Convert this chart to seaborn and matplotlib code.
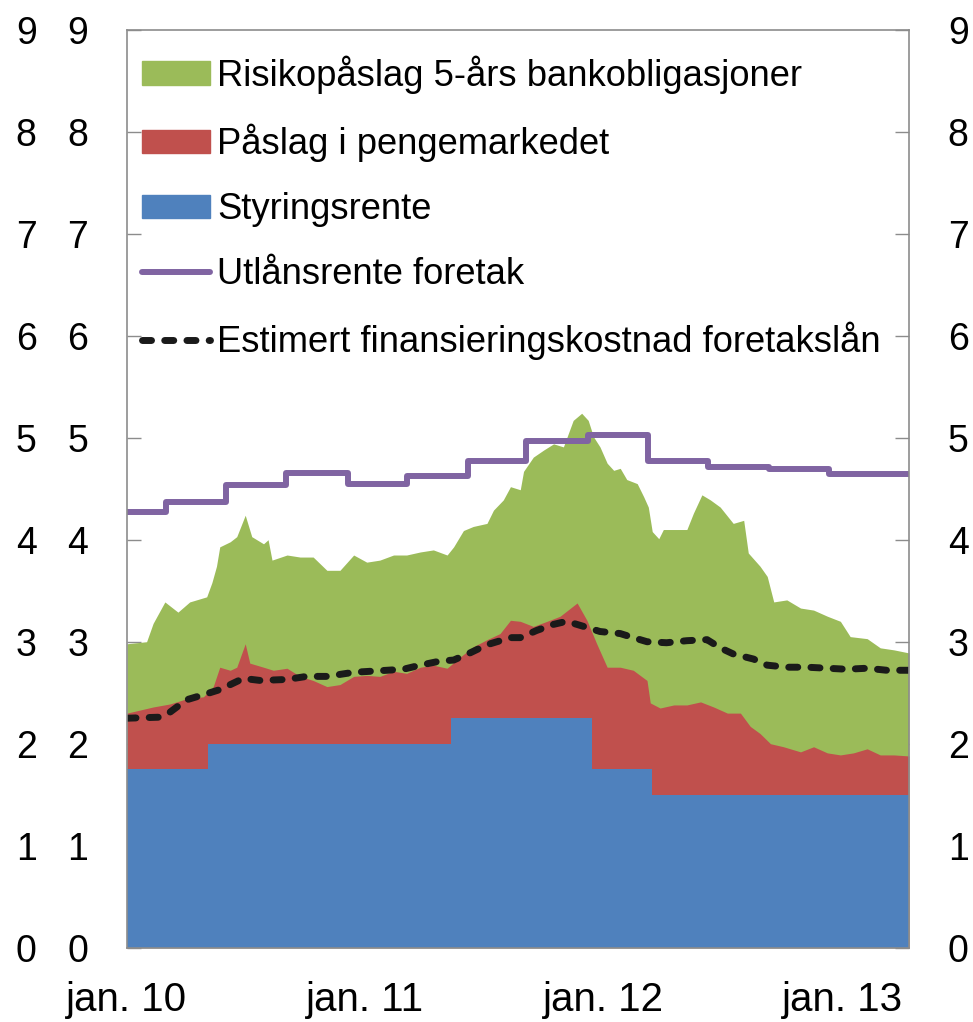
import pandas as pd  # data handling
import seaborn as sns  # plotting
import matplotlib.pyplot as plt
from matplotlib.patches import Patch
from matplotlib.lines import Line2D

# data (percent)
styring_dates = ["2010-01-01", "2010-05-05", "2011-05-12", "2011-12-14", "2012-03-14", "2013-04-12"]
styring_vals = [1.75, 2.00, 2.25, 1.75, 1.50, 1.50]

# level of red area top (styringsrente + påslag i pengemarkedet)
penge_dates = ["2010-01-01", "2010-01-21", "2010-02-10", "2010-03-08", "2010-04-02", "2010-04-28",
               "2010-05-13", "2010-05-23", "2010-06-08", "2010-06-18", "2010-07-01", "2010-07-08",
               "2010-07-29", "2010-08-13", "2010-09-03", "2010-09-23", "2010-10-13", "2010-11-03",
               "2010-11-23", "2010-12-14", "2011-01-03", "2011-01-23", "2011-02-13", "2011-03-05",
               "2011-03-26", "2011-04-15", "2011-05-06", "2011-05-26", "2011-06-15", "2011-07-06",
               "2011-07-26", "2011-08-11", "2011-08-26", "2011-09-15", "2011-10-06", "2011-10-26",
               "2011-11-21", "2011-12-06", "2011-12-21", "2012-01-06", "2012-01-26", "2012-02-15",
               "2012-03-07", "2012-03-12", "2012-03-27", "2012-04-17", "2012-05-07", "2012-05-28",
               "2012-06-17", "2012-07-08", "2012-07-28", "2012-08-12", "2012-08-27", "2012-09-12",
               "2012-10-02", "2012-10-28", "2012-11-17", "2012-12-08", "2012-12-28", "2013-01-17",
               "2013-02-07", "2013-02-27", "2013-03-20", "2013-04-12"]
penge_vals = [2.30, 2.33, 2.36, 2.39, 2.44, 2.46,
              2.56, 2.75, 2.72, 2.75, 2.98, 2.79,
              2.75, 2.72, 2.74, 2.66, 2.62, 2.56,
              2.58, 2.66, 2.67, 2.66, 2.71, 2.69,
              2.75, 2.77, 2.74, 2.85, 2.95, 3.02,
              3.08, 3.21, 3.20, 3.15, 3.20, 3.25,
              3.38, 3.21, 2.98, 2.75, 2.75, 2.72,
              2.62, 2.40, 2.35, 2.38, 2.38, 2.41,
              2.36, 2.30, 2.30, 2.17, 2.10, 2.00,
              1.97, 1.92, 1.97, 1.91, 1.89, 1.91,
              1.95, 1.89, 1.89, 1.88]

# level of green area top (total incl. risikopåslag 5-års bankobligasjoner)
risiko_dates = ["2010-01-01", "2010-01-31", "2010-02-10", "2010-02-28", "2010-03-20", "2010-04-07",
                "2010-05-03", "2010-05-11", "2010-05-18", "2010-05-23", "2010-06-08", "2010-06-18",
                "2010-07-01", "2010-07-11", "2010-07-29", "2010-08-05", "2010-08-11", "2010-09-03",
                "2010-09-23", "2010-10-13", "2010-11-03", "2010-11-23", "2010-12-14", "2011-01-03",
                "2011-01-23", "2011-02-13", "2011-03-05", "2011-03-26", "2011-04-15", "2011-05-06",
                "2011-05-16", "2011-05-31", "2011-06-15", "2011-07-06", "2011-07-16", "2011-07-31",
                "2011-08-11", "2011-08-26", "2011-08-31", "2011-09-15", "2011-10-01", "2011-10-16",
                "2011-10-31", "2011-11-15", "2011-11-28", "2011-12-08", "2011-12-16", "2011-12-26",
                "2012-01-06", "2012-01-16", "2012-01-26", "2012-02-05", "2012-02-21", "2012-03-02",
                "2012-03-09", "2012-03-15", "2012-03-25", "2012-04-01", "2012-04-17", "2012-05-07",
                "2012-05-17", "2012-05-30", "2012-06-12", "2012-06-27", "2012-07-17", "2012-08-02",
                "2012-08-09", "2012-08-27", "2012-09-07", "2012-09-17", "2012-10-07", "2012-10-28",
                "2012-11-17", "2012-12-08", "2012-12-28", "2013-01-12", "2013-02-07", "2013-02-27",
                "2013-03-20", "2013-04-12"]
risiko_vals = [2.98, 3.00, 3.18, 3.39, 3.29, 3.39,
               3.44, 3.58, 3.74, 3.93, 3.98, 4.03,
               4.24, 4.03, 3.96, 4.00, 3.80, 3.85,
               3.83, 3.83, 3.70, 3.70, 3.85, 3.78,
               3.80, 3.85, 3.85, 3.88, 3.90, 3.85,
               3.93, 4.09, 4.13, 4.16, 4.29, 4.39,
               4.52, 4.49, 4.67, 4.81, 4.88, 4.94,
               4.91, 5.17, 5.24, 5.17, 5.01, 4.91,
               4.75, 4.68, 4.70, 4.59, 4.55, 4.42,
               4.32, 4.08, 4.01, 4.10, 4.10, 4.10,
               4.26, 4.44, 4.39, 4.32, 4.16, 4.19,
               3.87, 3.74, 3.64, 3.39, 3.41, 3.33,
               3.31, 3.25, 3.20, 3.05, 3.03, 2.94,
               2.92, 2.89]

utlan_dates = ["2010-01-01", "2010-03-02", "2010-06-02", "2010-09-02", "2010-12-05", "2011-03-05",
               "2011-06-07", "2011-09-04", "2011-12-07", "2012-03-09", "2012-06-09", "2012-09-09",
               "2012-12-10", "2013-04-12"]
utlan_vals = [4.27, 4.37, 4.54, 4.65, 4.55, 4.62, 4.77, 4.97, 5.03, 4.77, 4.71, 4.69, 4.64, 4.64]

kost_dates = ["2010-01-01", "2010-02-20", "2010-03-08", "2010-04-02", "2010-04-28", "2010-05-23",
              "2010-06-28", "2010-07-24", "2010-09-03", "2010-10-03", "2010-11-03", "2010-12-14",
              "2011-02-03", "2011-02-28", "2011-03-26", "2011-04-25", "2011-05-16", "2011-06-10",
              "2011-07-06", "2011-08-11", "2011-08-26", "2011-09-20", "2011-10-16", "2011-11-05",
              "2011-12-01", "2011-12-26", "2012-01-26", "2012-02-15", "2012-03-07", "2012-04-06",
              "2012-05-07", "2012-06-07", "2012-06-27", "2012-07-17", "2012-08-17", "2012-09-07",
              "2012-10-07", "2012-11-07", "2012-12-08", "2013-01-07", "2013-02-07", "2013-03-09",
              "2013-04-12"]
kost_vals = [2.25, 2.26, 2.31, 2.43, 2.48, 2.53,
             2.64, 2.62, 2.63, 2.66, 2.66, 2.70,
             2.72, 2.73, 2.77, 2.81, 2.82, 2.89,
             2.97, 3.04, 3.04, 3.11, 3.17, 3.20,
             3.15, 3.10, 3.08, 3.04, 3.00, 2.99,
             3.01, 3.02, 2.94, 2.88, 2.83, 2.77,
             2.75, 2.75, 2.74, 2.73, 2.74, 2.72,
             2.72]

labels = ["Risikopåslag 5-års bankobligasjoner", "Påslag i pengemarkedet", "Styringsrente",
          "Utlånsrente foretak", "Estimert finansieringskostnad foretakslån"]
xtick_dates = ["2010-01-01", "2011-01-01", "2012-01-01", "2013-01-01"]
xtick_labels = ["jan. 10", "jan. 11", "jan. 12", "jan. 13"]

green, red, blue, purple = "#9BBB59", "#C0504D", "#4F81BD", "#8064A2"
grey = "#8c8c8c"
dash = (0, (1.3, 1.9))

sns.set_style("white")
plt.rcParams["font.family"] = ["Liberation Sans", "DejaVu Sans"]
plt.rcParams["text.color"] = "black"
plt.rcParams["xtick.labelcolor"] = "black"
plt.rcParams["ytick.labelcolor"] = "black"

styring = pd.DataFrame({"dato": pd.to_datetime(styring_dates), "verdi": styring_vals})
penge = pd.DataFrame({"dato": pd.to_datetime(penge_dates), "verdi": penge_vals})
risiko = pd.DataFrame({"dato": pd.to_datetime(risiko_dates), "verdi": risiko_vals})
utlan = pd.DataFrame({"dato": pd.to_datetime(utlan_dates), "verdi": utlan_vals})
kost = pd.DataFrame({"dato": pd.to_datetime(kost_dates), "verdi": kost_vals})

fig = plt.figure(figsize=(9.73, 10.22), dpi=100)
ax = fig.add_axes([0.1305, 0.0727, 0.8037, 0.8982])

# stacked areas drawn as overlapping fills
ax.fill_between(risiko["dato"], 0, risiko["verdi"], color=green, lw=0)
ax.fill_between(penge["dato"], 0, penge["verdi"], color=red, lw=0)
ax.fill_between(styring["dato"], 0, styring["verdi"], step="post", color=blue, lw=0)

sns.lineplot(data=utlan, x="dato", y="verdi", ax=ax, color=purple, lw=4.3,
             drawstyle="steps-post", solid_joinstyle="round", solid_capstyle="butt")
sns.lineplot(data=kost, x="dato", y="verdi", ax=ax, color="#1a1a1a", lw=5,
             linestyle=dash, dash_capstyle="round")

ax.set_xlim(pd.Timestamp("2010-01-01"), pd.Timestamp("2013-04-12"))
ax.set_ylim(0, 9)
ax.set_xlabel("")
ax.set_ylabel("")
ax.set_xticks(pd.to_datetime(xtick_dates))
ax.set_xticklabels(xtick_labels)
ax.set_yticks(range(10))

for s in ax.spines.values():
    s.set_visible(True)
    s.set_color(grey)
    s.set_linewidth(1.2)

ax.tick_params(axis="x", direction="in", length=10, width=1, color=grey, labelsize=29, pad=24,
               labelcolor="black")
ax.tick_params(axis="y", direction="in", length=10, width=1, color=grey, labelsize=27, pad=28,
               left=True, right=True, labelleft=True, labelright=True, labelcolor="black")

# extra outer column of left labels
sec = ax.secondary_yaxis("left")
sec.set_yticks(range(10))
sec.tick_params(length=0, labelsize=27, pad=65, labelcolor="black")
sec.spines["left"].set_visible(False)

handles = [Patch(color=green), Patch(color=red), Patch(color=blue),
           Line2D([], [], color=purple, lw=4.3, solid_capstyle="round"),
           Line2D([], [], color="#1a1a1a", lw=5, linestyle=dash, dash_capstyle="round")]
leg = ax.legend(handles, labels, loc="upper left", bbox_to_anchor=(0.019, 0.972), frameon=False,
                fontsize=26.2, handlelength=1.87, handleheight=0.6, handletextpad=0.2,
                labelspacing=0.82, borderpad=0, borderaxespad=0)
for t in leg.get_texts():
    t.set_color("black")

plt.savefig("out.png", dpi=100)
